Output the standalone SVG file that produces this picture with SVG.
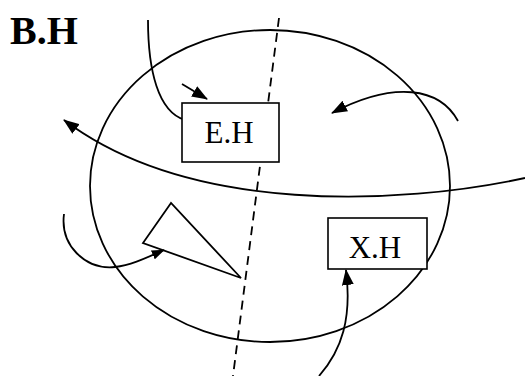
<svg xmlns="http://www.w3.org/2000/svg" width="525" height="376" viewBox="0 0 525 376">
<defs>
<style>
.ln{fill:none;stroke:#000;stroke-width:1.8}
.box{fill:#fff;stroke:#000;stroke-width:1.6}
.lbl{font-family:"Liberation Serif","Times New Roman",serif;font-size:31px;fill:#000;text-anchor:middle}
</style>
<marker id="ah" viewBox="0 0 16 12" refX="15" refY="6" markerWidth="16" markerHeight="12" markerUnits="userSpaceOnUse" orient="auto">
<path d="M0,0 L16,6 L0,12 Z" fill="#000"/>
</marker>
<marker id="ahs" viewBox="0 0 16 12" refX="15" refY="6" markerWidth="13" markerHeight="10" markerUnits="userSpaceOnUse" orient="auto">
<path d="M0,0 L16,6 L0,12 Z" fill="#000"/>
</marker>
</defs>
<rect width="525" height="376" fill="#fff"/>
<text x="10" y="44" font-family="Liberation Serif,'Times New Roman',serif" font-size="40" font-weight="bold">B.H</text>
<g id="boundary">
<ellipse cx="270" cy="186" rx="180" ry="156" class="ln"/>
</g>
<g id="divider">
<line x1="279" y1="18" x2="233" y2="376" class="ln" stroke-dasharray="9,6"/>
</g>
<g id="triangle">
<polygon points="171,203 143,243 241,278" class="ln" stroke-linejoin="miter"/>
</g>
<g id="connectors">
<path d="M148,20 C148,70 158,112 185,120" class="ln"/>
<path d="M182,84 L207,99" class="ln" marker-end="url(#ah)"/>
<path d="M525,178 C400,205 190,215 64,120" class="ln" marker-end="url(#ah)"/>
<path d="M458,121 C440,88 395,80 332,113" class="ln" marker-end="url(#ah)"/>
<path d="M64,214 C60,245 85,270 115,267 C132,265 148,257 164,250" class="ln" marker-end="url(#ahs)"/>
<path d="M319,376 C342,350 352,318 346,270" class="ln" marker-end="url(#ah)"/>
</g>
<g id="EH">
<rect x="182" y="103" width="97" height="59" class="box"/>
<text x="229" y="143" class="lbl">E.H</text>
</g>
<g id="XH">
<rect x="328" y="218" width="99" height="51" class="box"/>
<text x="375" y="258" class="lbl">X.H</text>
</g>
</svg>
